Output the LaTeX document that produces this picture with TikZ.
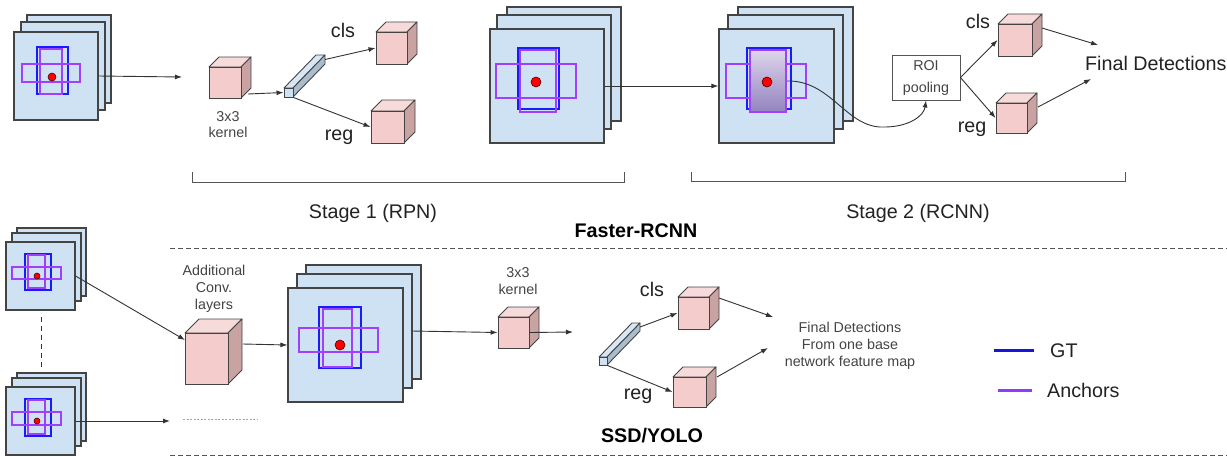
\documentclass[tikz,border=0pt]{standalone}
\usepackage{fontspec}
\setmainfont{Liberation Sans}
\usetikzlibrary{arrows.meta,fit}
\definecolor{sheetblue}{HTML}{CFE2F3}
\definecolor{edgec}{HTML}{444444}
\definecolor{cubefrontc}{HTML}{F4CCCC}
\definecolor{cubetopc}{HTML}{F7DADA}
\definecolor{cubesidec}{HTML}{C9A2A2}
\definecolor{gtblue}{HTML}{1A1AFF}
\definecolor{anchorpurple}{HTML}{A040FF}
\definecolor{roitop}{HTML}{DDD5EA}
\definecolor{roibot}{HTML}{9383BF}
\definecolor{rodtopc}{HTML}{D8E7F3}
\definecolor{rodsidec}{HTML}{A9BDCD}
\definecolor{txt}{HTML}{222222}
\definecolor{smalltxt}{HTML}{444444}
\definecolor{conn}{HTML}{333333}
\definecolor{linegray}{HTML}{555555}

\newcommand{\fmStack}[9]{%
  \node[sheet, fit={({#2+#8},{#3-#9})({#4+#8},{#5-#9})}] (#1c) {};
  \node[sheet, fit={({#2+#6},{#3-#7})({#4+#6},{#5-#7})}] (#1b) {};
  \node[sheet, fit={(#2,#3)(#4,#5)}] (#1) {};
}
\newcommand{\fmCube}[6]{%
  \draw[cubeedge, fill=cubetopc] (#2,#3) -- ({#2+#6},{#3-#6}) -- ({#4+#6},{#3-#6}) -- (#4,#3) -- cycle;
  \draw[cubeedge, fill=cubesidec] (#4,#3) -- ({#4+#6},{#3-#6}) -- ({#4+#6},{#5-#6}) -- (#4,#5) -- cycle;
  \node[cubebox, fit={(#2,#3)(#4,#5)}] (#1) {};
}
\newcommand{\fmRod}[7]{%
  \draw[cubeedge, fill=rodtopc] (#2,#3) -- ({#2+#6},{#3-#7}) -- ({#4+#6},{#3-#7}) -- (#4,#3) -- cycle;
  \draw[cubeedge, fill=rodsidec] (#4,#3) -- ({#4+#6},{#3-#7}) -- ({#4+#6},{#5-#7}) -- (#4,#5) -- cycle;
  \node[rodbox, fit={(#2,#3)(#4,#5)}] (#1) {};
  \coordinate (#1end) at ({#4+#6},{(#3+#5)/2-#7});
}

\begin{document}
\begin{tikzpicture}[x=1pt,y=-1pt,
  sheet/.style={draw=edgec, fill=sheetblue, line width=1.1pt, inner sep=0pt},
  cubeedge/.style={draw=edgec, line width=0.9pt, line join=round},
  cubebox/.style={draw=edgec, fill=cubefrontc, line width=0.9pt, inner sep=0pt},
  rodbox/.style={draw=edgec, fill=sheetblue, line width=0.9pt, inner sep=0pt},
  gt/.style={draw=gtblue, line width=1.2pt},
  anc/.style={draw=anchorpurple, line width=1.2pt},
  reddot/.style={fill=red, draw=black!70!red, line width=0.6pt},
  big/.style={font=\fontsize{19.7}{23}\selectfont, text=txt, inner sep=0pt},
  bigbold/.style={font=\fontsize{19.7}{23}\selectfont\bfseries, text=black, inner sep=0pt},
  small/.style={font=\fontsize{14.3}{17}\selectfont, text=smalltxt, inner sep=0pt},
  arr/.style={draw=conn, line width=0.9pt, -{Latex[length=7pt,width=5pt]}},
  bracketl/.style={draw=linegray, line width=1pt},
  sepline/.style={draw=linegray, line width=0.8pt, dash pattern=on 5pt off 3pt},
]
\useasboundingbox (0,0) rectangle (1227,456);
\fill[white] (0,0) rectangle (1227,456);

% ---------- Faster-RCNN ----------
\fmStack{tsA}{14}{32}{98}{120}{7}{10}{13}{17}
\draw[gt] (37,47) rectangle (68,94);
\draw[anc] (40,49) rectangle (62,94);
\draw[anc] (22,64) rectangle (80,82);
\fill[reddot] (52,77) circle (4pt);

\fmCube{kA}{209}{67}{241}{98}{10}
\node[small, anchor=base] (kAt1) at (228,121) {3x3};
\node[small, anchor=base] (kAt2) at (228,137) {kernel};

\fmRod{rodA}{284}{88}{293}{97}{32}{33}
\fmCube{clsA}{376}{32}{407}{64}{10}
\fmCube{regA}{371}{111}{404}{143}{11}
\node[big, anchor=base] (clsAt) at (343,37) {cls};
\node[big, anchor=base] (regAt) at (339,140) {reg};

\fmStack{tsB}{490}{29}{604}{143}{7}{14}{17}{22}
\draw[gt] (518,48) rectangle (559,109);
\draw[anc] (520,50) rectangle (556,112);
\draw[anc] (496,64) rectangle (576,98);
\fill[reddot] (536,82) circle (5pt);

\fmStack{tsC}{719}{29}{834}{143}{9}{14}{19}{22}
\draw[gt] (747,48) rectangle (791,109);
\draw[anc] (726,64) rectangle (806,98);
\shade[top color=roitop, bottom color=roibot, draw=anchorpurple, line width=1.2pt] (750,50) rectangle (786,112);
\fill[reddot] (767,82) circle (5pt);

\node[draw=linegray, line width=0.9pt, fill=white, minimum width=68pt, minimum height=45pt, inner sep=0pt] (roi) at (926,77.5) {};
\node[small, anchor=base] (roit1) at (926,70) {ROI};
\node[small, anchor=base] (roit2) at (926,92) {pooling};

\fmCube{clsB}{998}{24}{1032}{56}{10}
\fmCube{regB}{996}{103}{1027}{133}{10}
\node[big, anchor=base] (clsBt) at (978,28) {cls};
\node[big, anchor=base] (regBt) at (972,132) {reg};
\node[big, anchor=base west] (fdA) at (1085,70) {Final Detections};

% brackets and labels
\draw[bracketl] (192,172) -- (192,182) -- (624,182) -- (624,172);
\draw[bracketl] (691,172) -- (691,181) -- (1125,181) -- (1125,172);
\node[big, anchor=base] (st1) at (373,218) {Stage 1 (RPN)};
\node[big, anchor=base] (st2) at (918,218) {Stage 2 (RCNN)};
\node[bigbold, anchor=base] (frc) at (636,237) {Faster-RCNN};
\draw[sepline] (170,248) -- (1227,248);

% connectors top
\coordinate (a1e) at (182,77);
\draw[arr] (tsA.east) -- (a1e);
\coordinate (kAout) at (248,94);
\draw[arr] (kAout) -- (rodA.west);
\draw[arr] (rodAend) -- (clsA.west);
\draw[arr] (rodA.south east) -- (regA.west);
\draw[arr] (tsB.east) -- (tsC.west);
\coordinate (curvS) at (787,81);
\draw[arr] (curvS) .. controls (830,80) and (845,125) .. (880,127) .. controls (910,128) and (924,115) .. (roi.south);
\draw[arr] (roi.east) -- (clsB.west);
\draw[arr] (roi.east) -- (regB.west);
\coordinate (clsBout) at (1042,28);
\coordinate (regBout) at (1038,107);
\coordinate (fdin1) at (1098,45);
\coordinate (fdin2) at (1091,79);
\draw[arr] (clsBout) -- (fdin1);
\draw[arr] (regBout) -- (fdin2);

% ---------- SSD/YOLO ----------
\fmStack{bsA}{6}{242}{75}{310}{6}{9}{11}{14}
\draw[gt] (25,254) rectangle (51,290);
\draw[anc] (28,255) rectangle (45,288);
\draw[anc] (12,267) rectangle (61,279);
\fill[reddot] (37,276) circle (3pt);

\fmStack{bsB}{6}{387}{75}{455}{6}{9}{11}{14}
\draw[gt] (25,399) rectangle (51,436);
\draw[anc] (28,400) rectangle (45,434);
\draw[anc] (12,412) rectangle (61,425);
\fill[reddot] (37,421) circle (3pt);

\draw[draw=black!80, line width=0.9pt, dash pattern=on 5pt off 4pt] (41,317) -- (41,367);
\draw[draw=black!35, line width=0.8pt, dash pattern=on 2pt off 1.5pt] (183,419) -- (257,419);

\node[small, anchor=base] (addt1) at (214,275) {Additional};
\node[small, anchor=base] (addt2) at (214,292) {Conv.};
\node[small, anchor=base] (addt3) at (214,309) {layers};
\fmCube{bigC}{185}{333}{228}{384}{14}

\fmStack{bsC}{288}{288}{403}{402}{9}{14}{18}{23}
\draw[gt] (319,307) rectangle (361,368);
\draw[anc] (323,309) rectangle (352,367);
\draw[anc] (299,328) rectangle (378,352);
\fill[reddot] (340,345) circle (5pt);

\fmCube{kB}{498}{317}{529}{348}{10}
\node[small, anchor=base] (kBt1) at (518,277) {3x3};
\node[small, anchor=base] (kBt2) at (518,294) {kernel};

\fmRod{rodB}{599}{357}{607}{365}{33}{34}
\fmCube{clsC}{678}{297}{709}{329}{10}
\fmCube{regC}{673}{377}{706}{407}{10}
\node[big, anchor=base] (clsCt) at (652,296) {cls};
\node[big, anchor=base] (regCt) at (638,399) {reg};

\node[small, anchor=base] (fdB1) at (850,332) {Final Detections};
\node[small, anchor=base] (fdB2) at (850,349) {From one base};
\node[small, anchor=base] (fdB3) at (850,366) {network feature map};

\node[bigbold, anchor=base] (ssd) at (652,442) {SSD/YOLO};
\draw[sepline] (170,455) -- (1227,455);

% legend
\coordinate (lg1a) at (994,350);
\coordinate (lg1b) at (1034,350);
\coordinate (lg2a) at (998,390);
\coordinate (lg2b) at (1032,390);
\draw[draw=gtblue!85!black, line width=3pt] (lg1a) -- (lg1b);
\draw[draw=anchorpurple!90!blue, line width=3pt] (lg2a) -- (lg2b);
\node[big, anchor=base west] (gtt) at (1050,357) {GT};
\node[big, anchor=base west] (anct) at (1047,397) {Anchors};

% connectors bottom
\coordinate (bigCin) at (185,340);
\draw[arr] (bsA.east) -- (bigCin);
\coordinate (b2e) at (170,421);
\draw[arr] (bsB.east) -- (b2e);
\coordinate (bigCout) at (243,344);
\draw[arr] (bigCout) -- (bsC.west);
\coordinate (bsCout) at (412,331);
\draw[arr] (bsCout) -- (kB.west);
\coordinate (kBe) at (573,332);
\draw[arr] (kB.east) -- (kBe);
\draw[arr] (rodBend) -- (clsC.west);
\draw[arr] (rodB.south east) -- (regC.west);
\coordinate (clsCout) at (719,298);
\coordinate (regCout) at (717,377);
\coordinate (fdBin1) at (773,317);
\coordinate (fdBin2) at (768,348);
\draw[arr] (clsCout) -- (fdBin1);
\draw[arr] (regCout) -- (fdBin2);
\end{tikzpicture}
\end{document}
